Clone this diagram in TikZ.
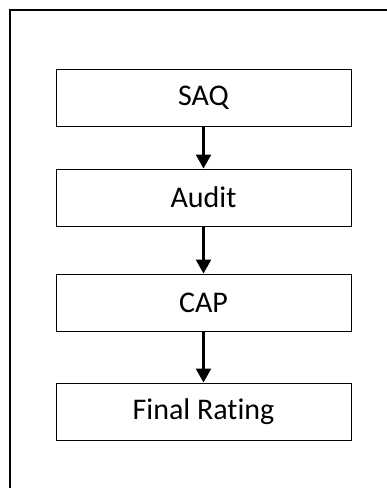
\documentclass[tikz,border=0pt]{standalone}
\usepackage{fontspec}
\setmainfont[Ligatures=NoCommon]{Carlito}
\usetikzlibrary{arrows.meta,positioning}
\tikzstyle{block}=[draw,line width=1pt,minimum width=295pt,minimum height=57pt,inner sep=0pt,font=\fontsize{30}{34}\selectfont]
\tikzstyle{post}=[line width=2.5pt,-{Triangle[length=14pt,width=15pt]}]

\begin{document}
\begin{tikzpicture}[x=1pt,y=-1pt]
            \useasboundingbox (0,0) rectangle (387,488);
            \draw[line width=2pt] (10,500) -- (10,10) -- (400,10);

            \node (S) [block] at (203.5,97.5) {SAQ};
            \node (A) [block] [below=42pt of S] {Audit};
            \node (C) [block] [below=47pt of A] {CAP};
            \node (F) [block] [below=51pt of C] {Final Rating};

            \path[post] (S) edge (A);
            \path[post] (A) edge (C);
            \path[post] (C) edge (F);
            \end{tikzpicture}
\end{document}
